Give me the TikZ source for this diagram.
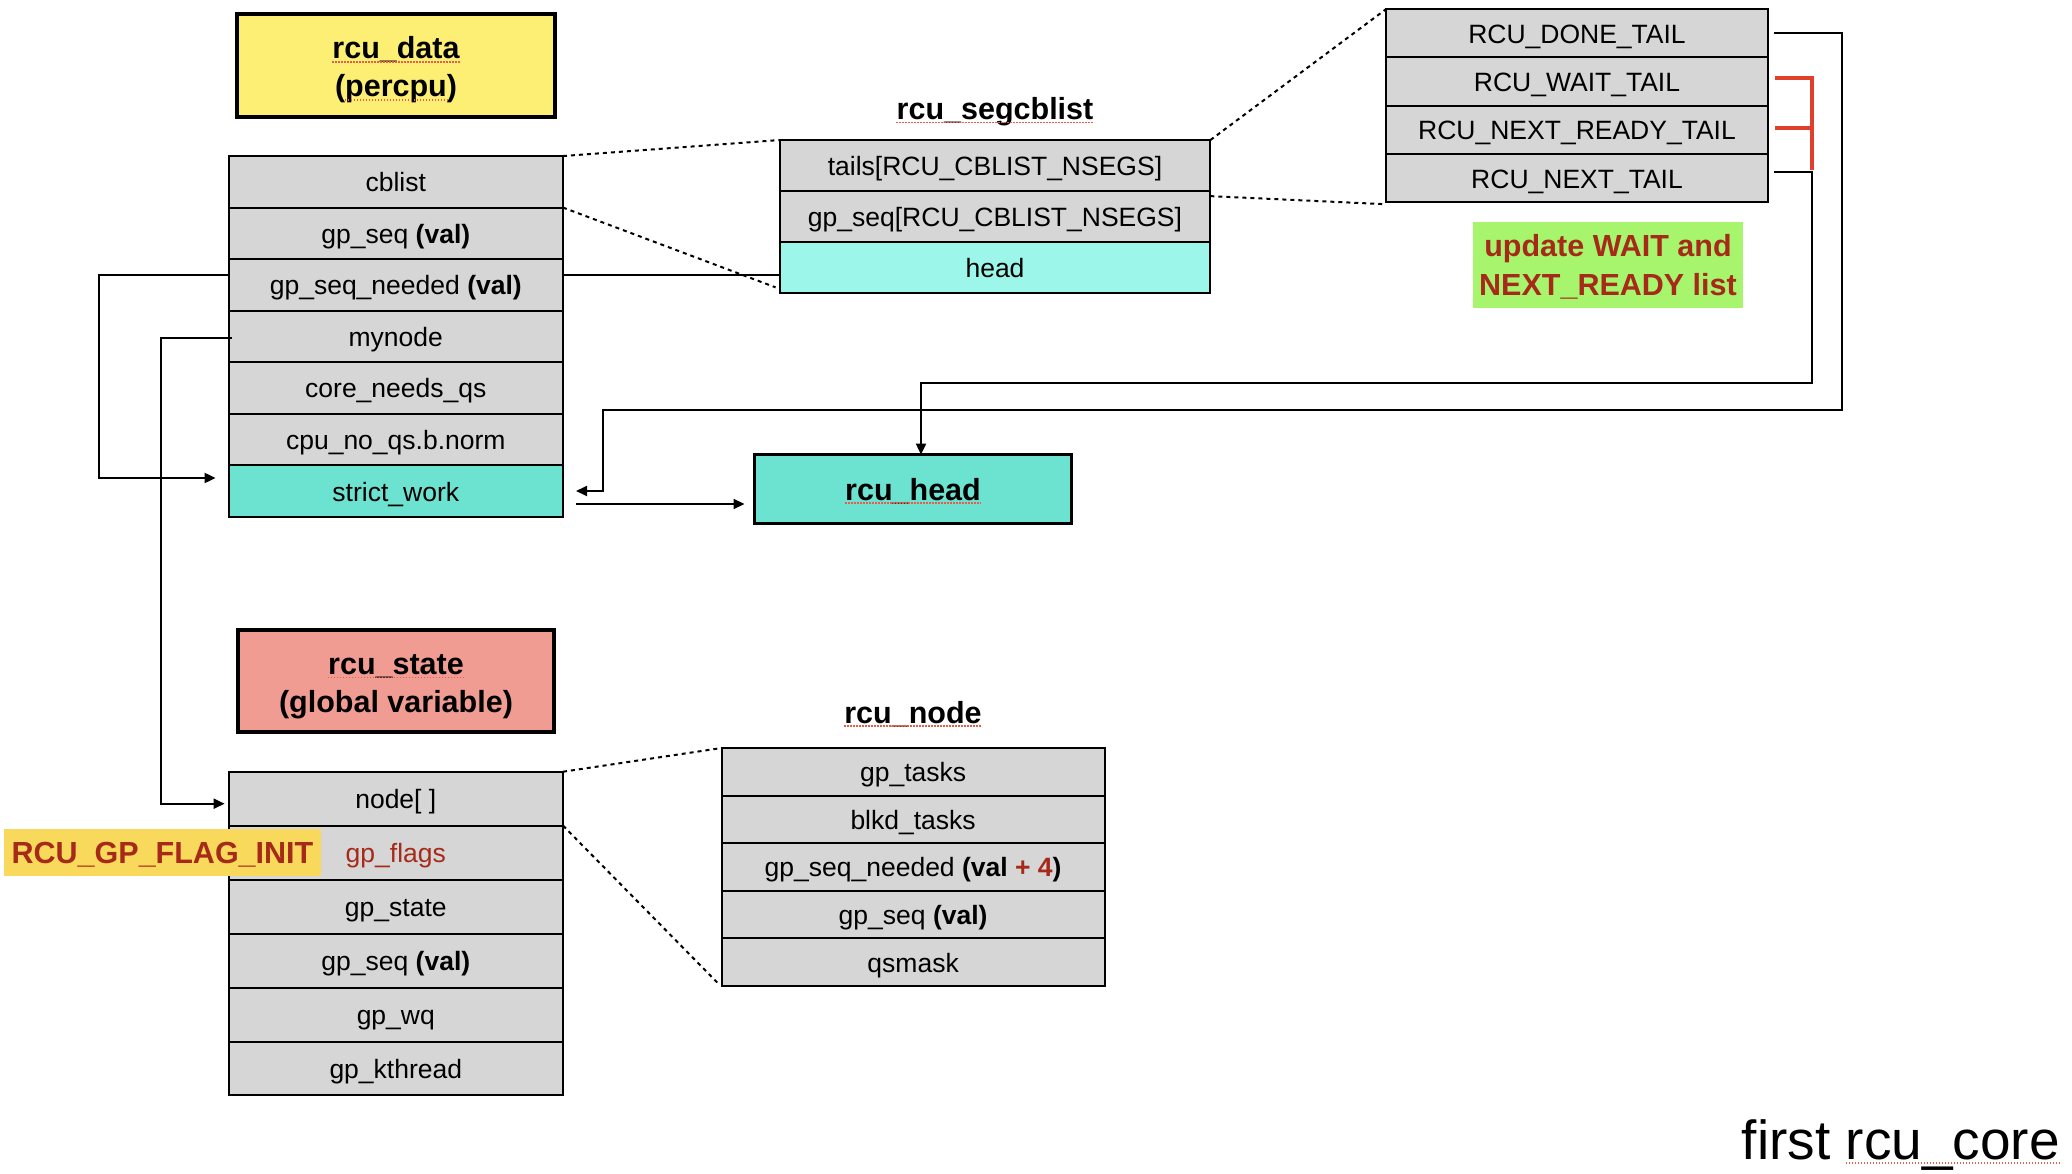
\documentclass[tikz,border=0pt]{standalone}
\usepackage{fontspec}
\setmainfont{Liberation Sans}
\usetikzlibrary{arrows.meta,calc}
\definecolor{cellgray}{HTML}{D6D6D6}
\definecolor{tealA}{HTML}{6BE3D0}
\definecolor{cyanA}{HTML}{9CF7EA}
\definecolor{yelA}{HTML}{FCEF73}
\definecolor{salmA}{HTML}{F19C92}
\definecolor{greenA}{HTML}{A6F56C}
\definecolor{flagY}{HTML}{F9D95B}
\definecolor{dred}{HTML}{A62A1A}
\definecolor{bred}{HTML}{E0402B}
\newcommand\myrowf{\fontsize{26.5pt}{30pt}\selectfont}
\newcommand\mytitlef{\fontsize{30.5pt}{37pt}\selectfont\bfseries}
\begin{document}
\begin{tikzpicture}[x=1pt,y=-1pt,
  cell/.style={draw=black, line width=2pt, fill=cellgray, inner sep=0pt, outer sep=0pt, font=\myrowf, text height=20pt, text depth=0pt},
  dcell/.style={cell, minimum width=334.4pt, minimum height=51.53pt},
  scell/.style={cell, minimum width=430.8pt, minimum height=51.13pt},
  rcell/.style={cell, minimum width=382pt, minimum height=48.25pt},
  stcell/.style={cell, minimum width=334.4pt, minimum height=53.97pt},
  ncell/.style={cell, minimum width=383.2pt, minimum height=47.56pt},
  bigbox/.style={draw=black, line width=3.5pt, inner sep=0pt, outer sep=0pt},
  ttl/.style={font=\mytitlef, inner sep=0pt, anchor=base},
  note/.style={font=\mytitlef, text=dred, inner sep=0pt, anchor=base},
  conn/.style={draw=black, line width=2pt},
  arr/.style={conn, -{Triangle[length=11pt,width=10pt]}},
  dots/.style={draw=black, line width=2pt, dash pattern=on 4pt off 4pt},
  redl/.style={draw=bred, line width=4pt},
  squig/.style={draw=bred!85, line width=1.4pt, dash pattern=on 1.5pt off 1.5pt}
]
\useasboundingbox (0,0) rectangle (2072,1174);
\fill[white] (0,0) rectangle (2072,1174);

% rcu_data header
\node[bigbox, fill=yelA, minimum width=318pt, minimum height=103pt] (ydbox) at (396,65.5) {};
\node[ttl] (ydt1) at (396,59) {rcu\_data};
\node[ttl] (ydt2) at (396,97) {(percpu)};

% rcu_data table
\node[dcell] (d1) at (395.8,181.8) {cblist};
\node[dcell] (d2) at (395.8,233.3) {gp\_seq \textbf{(val)}};
\node[dcell] (d3) at (395.8,284.8) {gp\_seq\_needed \textbf{(val)}};
\node[dcell] (d4) at (395.8,336.4) {mynode};
\node[dcell] (d5) at (395.8,387.9) {core\_needs\_qs};
\node[dcell] (d6) at (395.8,439.4) {cpu\_no\_qs.b.norm};
\node[dcell, fill=tealA] (d7) at (395.8,491.0) {strict\_work};

% rcu_segcblist
\node[ttl] (sttl) at (995,119.3) {rcu\_segcblist};
\node[scell] (s1) at (995,165.6) {tails[RCU\_CBLIST\_NSEGS]};
\node[scell] (s2) at (995,216.7) {gp\_seq[RCU\_CBLIST\_NSEGS]};
\node[scell, fill=cyanA] (s3) at (995,267.8) {head};

% tails table
\node[rcell] (r1) at (1577,33.3) {RCU\_DONE\_TAIL};
\node[rcell] (r2) at (1577,81.6) {RCU\_WAIT\_TAIL};
\node[rcell] (r3) at (1577,129.9) {RCU\_NEXT\_READY\_TAIL};
\node[rcell] (r4) at (1577,178.1) {RCU\_NEXT\_TAIL};

% green note
\node[fill=greenA, minimum width=270pt, minimum height=85.5pt, inner sep=0pt] (gbox) at (1608,264.8) {};
\node[note] (gt1) at (1608,256.5) {update WAIT and};
\node[note] (gt2) at (1608,295.5) {NEXT\_READY list};

% rcu_head
\node[bigbox, fill=tealA, minimum width=317pt, minimum height=68.8pt, font=\mytitlef, text height=22pt, text depth=0pt] (head) at (913,489) {rcu\_head};

% rcu_state header
\node[bigbox, fill=salmA, minimum width=316pt, minimum height=102pt] (stbox) at (396,681) {};
\node[ttl] (stt1) at (396,674.3) {rcu\_state};
\node[ttl] (stt2) at (396,712.7) {(global variable)};

% rcu_state table
\node[stcell] (st1) at (395.8,798.7) {node[ ]};
\node[stcell, text=dred] (st2) at (395.8,852.6) {gp\_flags};
\node[stcell] (st3) at (395.8,906.6) {gp\_state};
\node[stcell] (st4) at (395.8,960.6) {gp\_seq \textbf{(val)}};
\node[stcell] (st5) at (395.8,1014.6) {gp\_wq};
\node[stcell] (st6) at (395.8,1068.5) {gp\_kthread};

% flag label
\node[fill=flagY, minimum width=317pt, minimum height=47.5pt, inner sep=0pt, font=\mytitlef, text=dred, text height=22pt, text depth=0pt] (flag) at (162.5,852.3) {RCU\_GP\_FLAG\_INIT};

% rcu_node
\node[ttl] (nttl) at (913,723) {rcu\_node};
\node[ncell] (n1) at (913.1,771.8) {gp\_tasks};
\node[ncell] (n2) at (913.1,819.3) {blkd\_tasks};
\node[ncell] (n3) at (913.1,866.9) {gp\_seq\_needed \textbf{(val \textcolor{dred}{+ 4})}};
\node[ncell] (n4) at (913.1,914.5) {gp\_seq \textbf{(val)}};
\node[ncell] (n5) at (913.1,962.0) {qsmask};

% footer
\node[anchor=base east, inner sep=0pt, font=\fontsize{55pt}{60pt}\selectfont] (foot) at (2060,1159) {first rcu\_core};

% spell-check underlines
\draw[squig] ([yshift=-3pt]ydt1.base west) -- ([yshift=-3pt]ydt1.base east);
\draw[squig] ([xshift=10pt,yshift=-3pt]ydt2.base west) -- ([xshift=-10pt,yshift=-3pt]ydt2.base east);
\draw[squig] ([yshift=-3pt]sttl.base west) -- ([yshift=-3pt]sttl.base east);
\draw[squig] ([yshift=-3pt]stt1.base west) -- ([yshift=-3pt]stt1.base east);
\draw[squig] ([yshift=-3pt]nttl.base west) -- ([yshift=-3pt]nttl.base east);
\draw[squig] ([xshift=-67.8pt,yshift=-14pt]head.center) -- ([xshift=67.8pt,yshift=-14pt]head.center);
\draw[squig] ([xshift=104pt,yshift=-4pt]foot.base west) -- ([yshift=-4pt]foot.base east);

% dotted zoom lines
\draw[dots] (d1.north east) -- (s1.north west);
\draw[dots] (d1.south east) -- ([xshift=-4pt,yshift=6pt]s3.south west);
\draw[dots] (s1.north east) -- (r1.north west);
\draw[dots] ([yshift=-5pt]s2.north east) -- ([yshift=-2pt]r4.south west);
\draw[dots] (st1.north east) -- (n1.north west);
\draw[dots] (st2.north east) -- ([xshift=-4pt,yshift=3pt]n5.south west);

% connectors
\coordinate (yA) at (0,275);
\draw[arr] (d3.west |- yA) -- ++(-129.6,0) |- ([xshift=-13pt,yshift=13pt]d7.west);
\draw[conn] (d3.east |- yA) -- (s3.west |- yA);
\draw[arr] ([xshift=3pt,yshift=-2pt]d4.west) -- ++(-70.6,0) |- ([xshift=-4pt,yshift=-5pt]st1.west);
\coordinate (c1) at (1842,410);
\coordinate (c2) at (602.5,410);
\draw[arr] ([xshift=6pt]r1.east) -| (c1) -- (c2) |- ([xshift=13pt]d7.east);
\coordinate (c3) at (1812,383);
\draw[arr] ([xshift=6pt,yshift=6pt]r4.east) -| (c3) -| ([xshift=8pt]head.north);
\draw[arr] ([xshift=13pt,yshift=-13pt]d7.east) -- ([xshift=-10pt,yshift=-13pt]d7.east -| head.west);

% red bracket
\coordinate (rb) at (1812,0);
\draw[redl] ([xshift=7pt,yshift=3.6pt]r2.east) -| ([yshift=8pt]r4.east -| rb);
\draw[redl] ([xshift=7pt,yshift=2pt]r3.east) -- ([yshift=2pt]r3.east -| rb);
\end{tikzpicture}
\end{document}
